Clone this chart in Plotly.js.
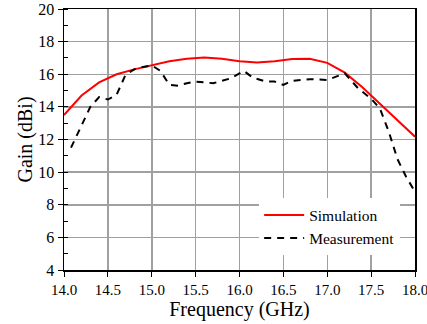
<!DOCTYPE html>
<html>
<head>
<meta charset="utf-8">
<script src="https://cdn.plot.ly/plotly-3.0.1.min.js"></script>
<style>
  html, body { margin: 0; padding: 0; background: #fff; }
  #chart { width: 427px; height: 324px; }
</style>
</head>
<body>
<div id="chart"></div>
<script>
// Simulated gain versus frequency
const simFreq = [14.0, 14.2, 14.4, 14.6, 14.8, 15.0, 15.2, 15.4, 15.6, 15.8, 16.0, 16.2, 16.4, 16.6, 16.8, 17.0, 17.2, 17.4, 17.6, 17.8, 18.0];
const simGain = [13.5, 14.7, 15.5, 16.0, 16.3, 16.55, 16.8, 16.95, 17.02, 16.95, 16.8, 16.72, 16.8, 16.93, 16.95, 16.7, 16.1, 15.2, 14.2, 13.2, 12.17];

// Measured gain versus frequency
const measFreq = [14.08, 14.2, 14.3, 14.4, 14.5, 14.6, 14.7, 14.8, 14.9, 15.0, 15.1, 15.2, 15.3, 15.4, 15.5, 15.6, 15.7, 15.8, 15.9, 16.05, 16.15, 16.3, 16.4, 16.5, 16.6, 16.8, 17.0, 17.2, 17.35, 17.5, 17.6, 17.7, 17.8, 17.9, 18.0];
const measGain = [11.5, 12.85, 14.0, 14.6, 14.45, 14.75, 15.95, 16.3, 16.45, 16.55, 16.2, 15.35, 15.3, 15.45, 15.55, 15.5, 15.45, 15.6, 15.75, 16.2, 15.8, 15.55, 15.55, 15.35, 15.6, 15.7, 15.65, 16.05, 15.15, 14.5, 13.9, 12.5, 10.8, 9.7, 8.8];

const xTicks = [14.0, 14.5, 15.0, 15.5, 16.0, 16.5, 17.0, 17.5, 18.0];
const xTickText = ['14.0', '14.5', '15.0', '15.5', '16.0', '16.5', '17.0', '17.5', '18.0'];
const yTicks = [4, 6, 8, 10, 12, 14, 16, 18, 20];

const serif = 'Liberation Serif';

const traces = [
  {
    x: simFreq, y: simGain, name: 'Simulation', type: 'scatter', mode: 'lines',
    line: { color: '#ff0000', width: 2 }
  },
  {
    x: measFreq, y: measGain, name: 'Measurement', type: 'scatter', mode: 'lines',
    line: { color: '#000000', width: 2, dash: '7px,6px' }
  }
];

const layout = {
  width: 427, height: 324,
  margin: { l: 64, r: 12, t: 9, b: 54 },
  paper_bgcolor: '#ffffff', plot_bgcolor: '#ffffff',
  font: { family: serif, color: '#000000', size: 15 },
  showlegend: true,
  legend: {
    x: 0.556, y: 0.056, xanchor: 'left', yanchor: 'bottom',
    bgcolor: '#ffffff', borderwidth: 0,
    font: { family: serif, size: 15.5, color: '#000000' },
    itemwidth: 40, tracegroupgap: 0
  },
  xaxis: {
    range: [14.0, 18.0], tickvals: xTicks, ticktext: xTickText,
    ticks: 'outside', ticklen: 5, tickcolor: '#000', tickwidth: 1,
    ticklabeloverflow: 'allow',
    showgrid: true, gridcolor: '#a0a0a0', gridwidth: 1.5,
    showline: true, linecolor: '#000', linewidth: 1.5, mirror: true,
    zeroline: false,
    tickfont: { family: serif, size: 15, color: '#000' },
    title: { text: 'Frequency (GHz)', font: { family: serif, size: 20, color: '#000' }, standoff: 4 }
  },
  yaxis: {
    range: [4, 20], tickvals: yTicks,
    ticks: 'outside', ticklen: 5, tickcolor: '#000', tickwidth: 1,
    minor: { dtick: 1, tick0: 0, ticks: 'inside', ticklen: 4, tickcolor: '#000', showgrid: false },
    showgrid: true, gridcolor: '#a0a0a0', gridwidth: 1.5,
    showline: true, linecolor: '#000', linewidth: 1.5, mirror: true,
    zeroline: false,
    tickfont: { family: serif, size: 16, color: '#000' },
    title: { text: 'Gain (dBi)', font: { family: serif, size: 20, color: '#000' }, standoff: 0 }
  }
};

Plotly.newPlot('chart', traces, layout, { displayModeBar: false, staticPlot: true });
</script>
</body>
</html>
